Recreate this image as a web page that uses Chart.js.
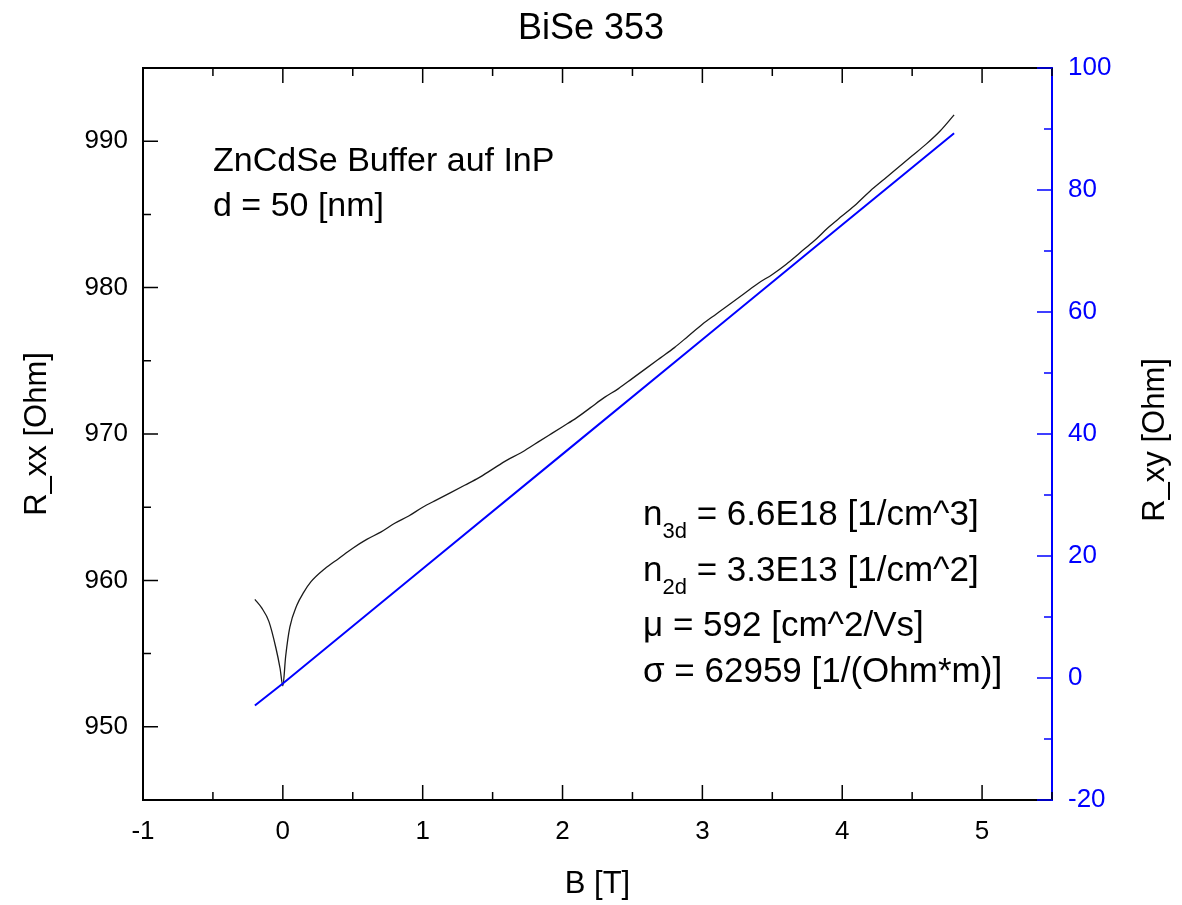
<!DOCTYPE html>
<html>
<head>
<meta charset="utf-8">
<title>BiSe 353</title>
<script src="https://cdn.jsdelivr.net/npm/chart.js@4"></script>
<style>
  html, body { margin: 0; padding: 0; background: #fff; }
  #wrap { width: 1182px; height: 905px; }
</style>
</head>
<body>
<div id="wrap"><canvas id="chart" width="1182" height="905"></canvas></div>
<script>
// longitudinal resistance R_xx vs. field
const fieldB = [-0.2, -0.15, -0.1, -0.05, -0.02, 0, 0.02, 0.05, 0.1, 0.15, 0.2, 0.3, 0.4, 0.5, 0.6, 0.7, 0.8, 0.9,
  1.0, 1.1, 1.2, 1.3, 1.4, 1.5, 1.6, 1.7, 1.8, 1.9, 2.0, 2.1, 2.2, 2.3, 2.4, 2.5, 2.6, 2.7, 2.8, 2.9,
  3.0, 3.1, 3.2, 3.3, 3.4, 3.5, 3.6, 3.7, 3.8, 3.9, 4.0, 4.1, 4.2, 4.3, 4.4, 4.5, 4.6, 4.7, 4.8];
const rxx = [958.7, 958.1, 957.2, 955.4, 954.0, 952.8, 954.8, 956.8, 958.3, 959.2, 959.9, 960.8, 961.5, 962.2, 962.8, 963.3, 963.9, 964.4,
  965.0, 965.5, 966.0, 966.5, 967.0, 967.6, 968.2, 968.7, 969.3, 969.9, 970.5, 971.1, 971.8, 972.5, 973.1, 973.8, 974.5, 975.2, 975.9, 976.7,
  977.5, 978.2, 978.9, 979.6, 980.3, 980.9, 981.6, 982.4, 983.2, 984.1, 984.9, 985.7, 986.6, 987.4, 988.2, 989.0, 989.8, 990.7, 991.8];

// Hall resistance R_xy vs. field
const hallB = [-0.2, 0, 1, 2, 3, 4, 4.8];
const rxy = [-4.5, -0.9, 17.9, 36.7, 55.5, 74.3, 89.3];

// axis tick labels
const bTicks = [-1, 0, 1, 2, 3, 4, 5];
const rxxTicks = [950, 960, 970, 980, 990];
const rxyTicks = [-20, 0, 20, 40, 60, 80, 100];

const chartTitle = 'BiSe 353';
const sampleNotes = ['ZnCdSe Buffer auf InP', 'd = 50 [nm]'];
const fitNotes = [
  { base: 'n', sub: '3d', rest: ' = 6.6E18 [1/cm^3]' },
  { base: 'n', sub: '2d', rest: ' = 3.3E13 [1/cm^2]' },
  { base: 'μ', sub: '', rest: ' = 592 [cm^2/Vs]' },
  { base: 'σ', sub: '', rest: ' = 62959 [1/(Ohm*m)]' }
];

const FONT = "'Liberation Sans', Arial, sans-serif";
const BLUE = '#0000ff';

const fixTicks = values => scale => { scale.ticks = values.map(v => ({ value: v })); };

// inward major/minor ticks on all four sides, plus the top frame line
const frameTicks = {
  id: 'frameTicks',
  afterDatasetsDraw(chart) {
    const { ctx, chartArea: a, scales } = chart;
    ctx.save();
    ctx.lineWidth = 2;
    ctx.strokeStyle = '#000';
    ctx.beginPath();
    ctx.moveTo(a.left - 1, a.top);
    ctx.lineTo(a.right, a.top);
    ctx.stroke();

    const mark = (scale, color, draw) => {
      ctx.strokeStyle = color;
      ctx.lineWidth = 1.5;
      const vals = scale.ticks.map(t => t.value);
      const step = vals[1] - vals[0];
      ctx.beginPath();
      for (let k = -2; k <= 2 * vals.length + 2; k++) {
        const v = vals[0] + k * step / 2;
        if (v < scale.min - 1e-9 || v > scale.max + 1e-9) continue;
        draw(scale.getPixelForValue(v), k % 2 === 0 ? 15 : 8);
      }
      ctx.stroke();
    };
    mark(scales.x, '#000', (p, len) => {
      ctx.moveTo(p, a.bottom); ctx.lineTo(p, a.bottom - len);
      ctx.moveTo(p, a.top); ctx.lineTo(p, a.top + len);
    });
    mark(scales.y, '#000', (p, len) => {
      ctx.moveTo(a.left, p); ctx.lineTo(a.left + len, p);
    });
    mark(scales.y1, BLUE, (p, len) => {
      ctx.moveTo(a.right, p); ctx.lineTo(a.right - len, p);
    });
    ctx.restore();
  }
};

// sample description, fit results and the right-hand axis title
const notes = {
  id: 'notes',
  afterDraw(chart) {
    const { ctx, chartArea: a } = chart;
    ctx.save();
    ctx.fillStyle = '#000';
    ctx.textBaseline = 'alphabetic';
    ctx.font = '34px ' + FONT;
    sampleNotes.forEach((t, i) => ctx.fillText(t, a.left + 70, a.top + 103 + i * 45));

    const baselines = [525, 581, 636, 682];
    fitNotes.forEach((n, i) => {
      const y = baselines[i];
      let x = a.left + 500;
      ctx.font = '35px ' + FONT;
      ctx.fillText(n.base, x, y);
      x += ctx.measureText(n.base).width;
      if (n.sub) {
        ctx.font = '22px ' + FONT;
        ctx.fillText(n.sub, x, y + 13);
        x += ctx.measureText(n.sub).width;
        ctx.font = '35px ' + FONT;
      }
      ctx.fillText(n.rest, x, y);
    });

    ctx.translate(1155, (a.top + a.bottom) / 2 + 6);
    ctx.rotate(-Math.PI / 2);
    ctx.textAlign = 'center';
    ctx.textBaseline = 'middle';
    ctx.font = '31px ' + FONT;
    ctx.fillText('R_xy [Ohm]', 0, 0);
    ctx.restore();
  }
};

new Chart(document.getElementById('chart'), {
  type: 'line',
  data: {
    datasets: [{
      label: 'R_xy',
      data: hallB.map((b, i) => ({ x: b, y: rxy[i] })),
      yAxisID: 'y1',
      borderColor: BLUE,
      borderWidth: 2,
      pointRadius: 0,
      tension: 0
    }, {
      label: 'R_xx',
      data: fieldB.map((b, i) => ({ x: b, y: rxx[i] })),
      yAxisID: 'y',
      borderColor: '#1a1a1a',
      borderWidth: 1.3,
      pointRadius: 0,
      cubicInterpolationMode: 'monotone'
    }]
  },
  options: {
    responsive: false,
    animation: false,
    layout: { padding: 0 },
    plugins: {
      legend: { display: false },
      tooltip: { enabled: false },
      title: {
        display: true,
        text: chartTitle,
        color: '#000',
        font: { family: FONT, size: 36, weight: 'normal', lineHeight: 1.2 },
        padding: { top: 7, bottom: 17.8 }
      }
    },
    scales: {
      x: {
        type: 'linear',
        position: 'bottom',
        min: -1,
        max: 5.5,
        afterFit(s) { s.height = 105; },
        afterBuildTicks: fixTicks(bTicks),
        grid: { drawOnChartArea: false, drawTicks: false },
        border: { display: true, color: '#000', width: 2 },
        ticks: { padding: 16, color: '#000', font: { family: FONT, size: 26 } },
        title: { display: true, text: 'B [T]', color: '#000', font: { family: FONT, size: 31, lineHeight: 1.2 }, padding: { bottom: 2 } }
      },
      y: {
        type: 'linear',
        position: 'left',
        min: 945,
        max: 995,
        afterFit(s) { s.width = 143; },
        afterBuildTicks: fixTicks(rxxTicks),
        grid: { drawOnChartArea: false, drawTicks: false },
        border: { display: true, color: '#000', width: 2 },
        ticks: { padding: 15, color: '#000', font: { family: FONT, size: 26 } },
        title: { display: true, text: 'R_xx [Ohm]', color: '#000', font: { family: FONT, size: 31, lineHeight: 1.2 }, padding: { top: 19 } }
      },
      y1: {
        type: 'linear',
        position: 'right',
        min: -20,
        max: 100,
        afterFit(s) { s.width = 130; },
        afterBuildTicks: fixTicks(rxyTicks),
        grid: { drawOnChartArea: false, drawTicks: false },
        border: { display: true, color: BLUE, width: 2 },
        ticks: { padding: 16, color: BLUE, font: { family: FONT, size: 26 } },
        title: { display: false }
      }
    }
  },
  plugins: [frameTicks, notes]
});
</script>
</body>
</html>
